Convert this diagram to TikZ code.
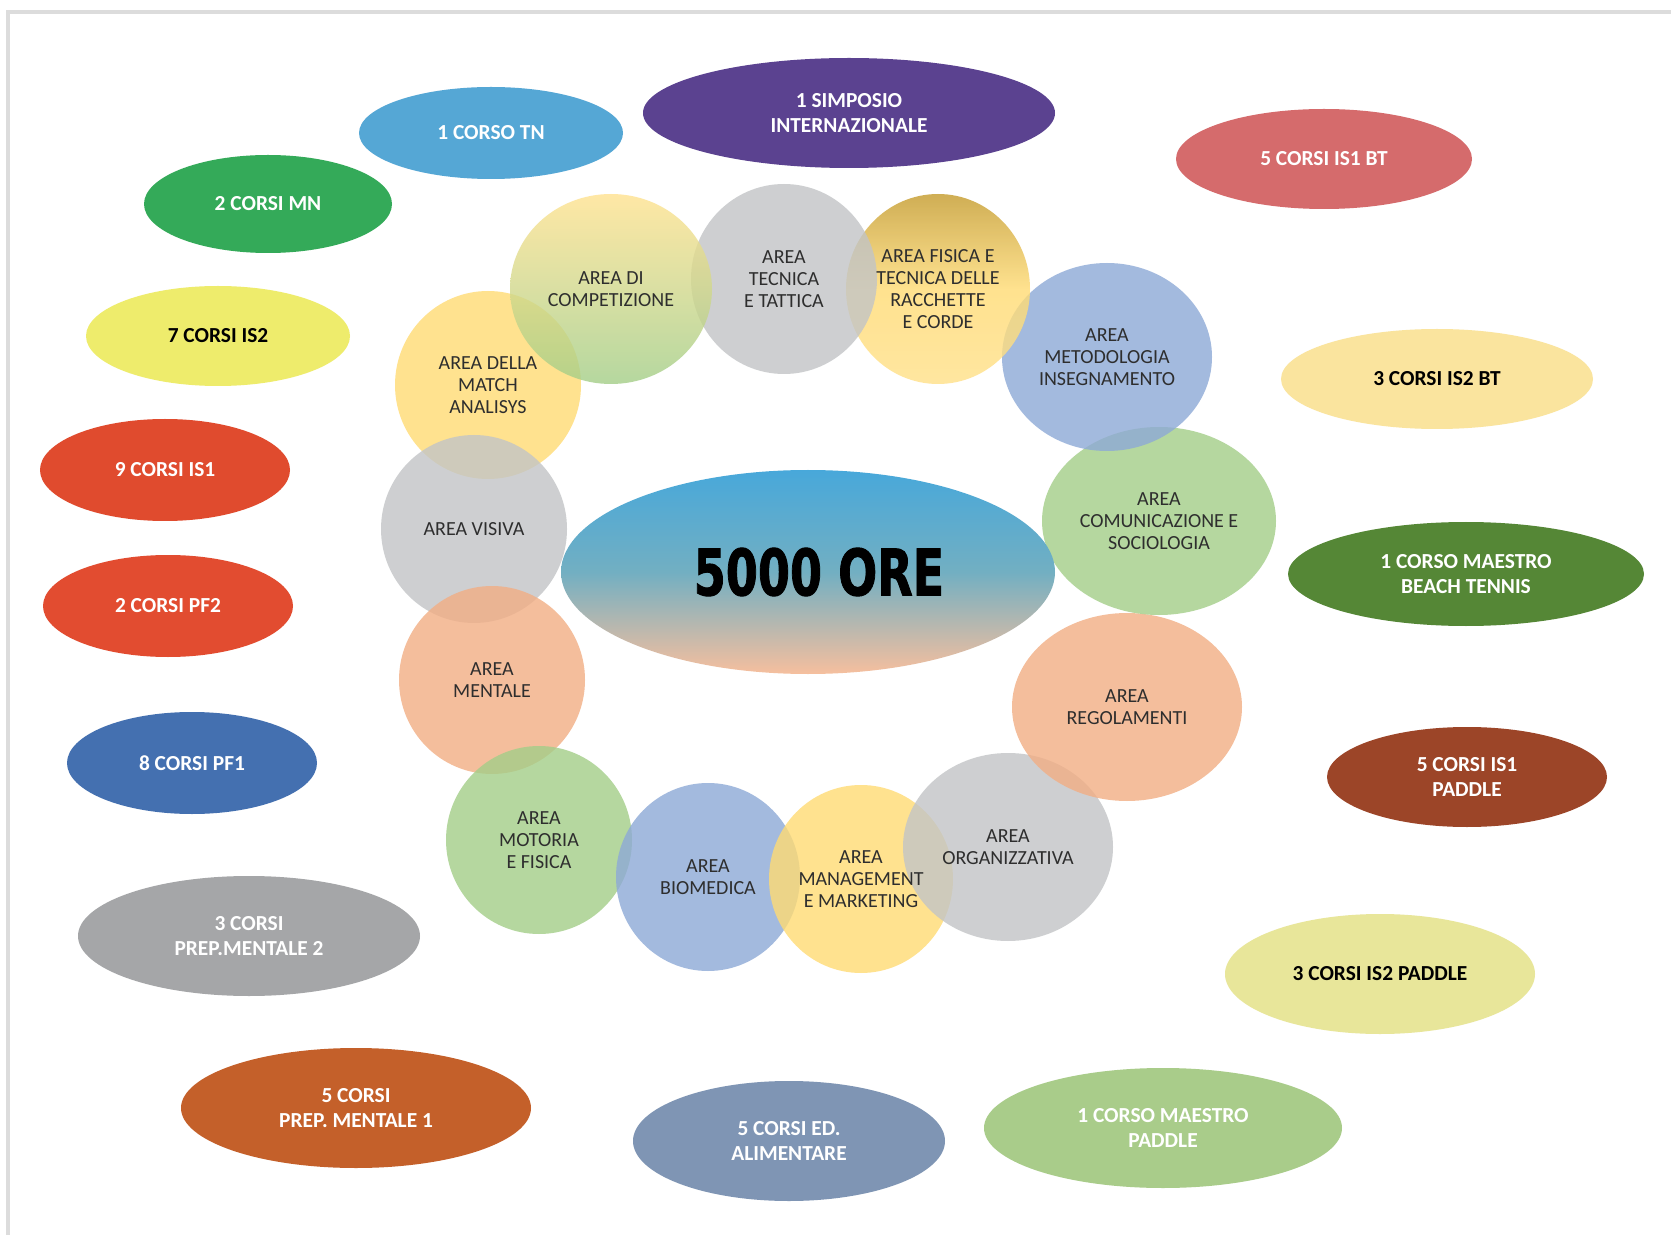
\documentclass[tikz,border=0pt]{standalone}
\usepackage{fontspec}
\usepackage{graphicx}
\setmainfont{Carlito}
\newfontfamily\orefont{DejaVu Sans}[FakeBold=1.6]
\usetikzlibrary{shapes.geometric}

\definecolor{bordo}{HTML}{DCDCDC}
\definecolor{areatxt}{HTML}{2E2E2E}
% colori dei corsi
\definecolor{cTN}{HTML}{55A7D5}
\definecolor{cMN}{HTML}{34AA59}
\definecolor{cSimp}{HTML}{5B4290}
\definecolor{cBTuno}{HTML}{D56B6C}
\definecolor{cIStwo}{HTML}{EEEC6C}
\definecolor{cBTdue}{HTML}{FAE49E}
\definecolor{cISuno}{HTML}{E04B2E}
\definecolor{cBeach}{HTML}{558736}
\definecolor{cPFdue}{HTML}{E24C30}
\definecolor{cPFuno}{HTML}{4470B0}
\definecolor{cPaduno}{HTML}{9C4528}
\definecolor{cPrepdue}{HTML}{A5A6A8}
\definecolor{cPaddue}{HTML}{E8E69A}
\definecolor{cPrepuno}{HTML}{C4602A}
\definecolor{cAlim}{HTML}{7F95B4}
\definecolor{cMaepad}{HTML}{A9CC8A}
% colori delle aree
\definecolor{aGiallo}{HTML}{FFDB73}
\definecolor{aOro}{HTML}{C49A2A}
\definecolor{aGrigio}{HTML}{C2C4C6}
\definecolor{aBlu}{HTML}{8DA9D6}
\definecolor{aVerde}{HTML}{A3CE88}
\definecolor{aPesca}{HTML}{F2AE84}
% centro
\definecolor{oreSu}{HTML}{48A8DA}
\definecolor{oreMezzo}{HTML}{72AFC2}
\definecolor{oreGiu}{HTML}{F6BF9E}

\begin{document}
\begin{tikzpicture}[x=0.5pt,y=-0.5pt,
    wh/.style 2 args={minimum width=#1pt, minimum height=#2pt},
    corso/.style={ellipse, inner sep=0pt, align=center, text=white,
        font=\fontsize{10.7}{12.8}\selectfont\bfseries},
    area/.style={ellipse, inner sep=0pt, fill opacity=0.8},
    etichetta/.style={align=center, inner sep=0pt, text=areatxt,
        font=\fontsize{10}{10.9}\selectfont}]
    \useasboundingbox[fill=white] (0,0) rectangle (1671,1235);
    \draw[bordo, line width=2pt] (8,1235) -- (8,12) -- (1671,12);

    % corsi
    \node[corso, wh={132}{46}, fill=cTN] (tn) at (491,133) {1 CORSO TN};
    \node[corso, wh={124}{49}, fill=cMN] (mn) at (268,204) {2 CORSI MN};
    \node[corso, wh={206}{55}, fill=cSimp] (simp) at (849,113) {1 SIMPOSIO\\INTERNAZIONALE};
    \node[corso, wh={148}{50}, fill=cBTuno] (isbt) at (1324,159) {5 CORSI IS1 BT};
    \node[corso, wh={132}{50}, fill=cIStwo, text=black] (istwo) at (218,336) {7 CORSI IS2};
    \node[corso, wh={156}{50}, fill=cBTdue, text=black] (istwobt) at (1437,379) {3 CORSI IS2 BT};
    \node[corso, wh={125}{51}, fill=cISuno] (isone) at (165,470) {9 CORSI IS1};
    \node[corso, wh={178}{52}, fill=cBeach] (beach) at (1466,574) {1 CORSO MAESTRO\\BEACH TENNIS};
    \node[corso, wh={125}{51}, fill=cPFdue] (pftwo) at (168,606) {2 CORSI PF2};
    \node[corso, wh={125}{51}, fill=cPFuno] (pfone) at (192,763) {8 CORSI PF1};
    \node[corso, wh={140}{50}, fill=cPaduno] (isonepad) at (1467,777) {5 CORSI IS1\\PADDLE};
    \node[corso, wh={171}{60}, fill=cPrepdue] (prepdue) at (249,936) {3 CORSI\\PREP.MENTALE 2};
    \node[corso, wh={155}{60}, fill=cPaddue, text=black] (istwopad) at (1380,974) {3 CORSI IS2 PADDLE};
    \node[corso, wh={175}{60}, fill=cPrepuno] (prepuno) at (356,1108) {5 CORSI\\PREP. MENTALE 1};
    \node[corso, wh={156}{60}, fill=cAlim] (alim) at (789,1141) {5 CORSI ED.\\ALIMENTARE};
    \node[corso, wh={179}{60}, fill=cMaepad] (maepad) at (1163,1128) {1 CORSO MAESTRO\\PADDLE};

    % aree (cerchi)
    \node[area, wh={93}{94}, fill=aGiallo] (match) at (488,385) {};
    \node[area, wh={93}{94}, fill=aGrigio] (visiva) at (474,529) {};
    \node[area, wh={93}{94}, fill=aPesca] (mentale) at (492,680) {};
    \node[area, wh={93}{94}, fill=aVerde] (motoria) at (539,840) {};
    \node[area, wh={92}{94}, fill=aBlu] (biomed) at (708,877) {};
    \node[area, wh={92}{94}, fill=aGiallo] (manag) at (861,879) {};
    \node[area, wh={105}{94}, fill=aGrigio] (organ) at (1008,847) {};
    \node[area, wh={115}{94}, fill=aPesca] (regol) at (1127,707) {};
    \node[area, wh={117}{94}, fill=aVerde] (comun) at (1159,521) {};
    \node[area, wh={105}{94}, fill=aBlu] (metod) at (1107,357) {};
    \node[area, wh={92}{95}, top color=aOro, bottom color=aGiallo!85,
        middle color=aGiallo] (fisica) at (938,289) {};
    \node[area, wh={93}{95}, fill=aGrigio] (tecnica) at (784,279) {};
    \node[area, wh={101}{95}, top color=aGiallo!80, bottom color=aVerde] (compet) at (611,289) {};

    % aree (testi)
    \node[etichetta] (matchT) at (match) {AREA DELLA\\MATCH\\ANALISYS};
    \node[etichetta] (visivaT) at (visiva) {AREA VISIVA};
    \node[etichetta] (mentaleT) at (mentale) {AREA\\MENTALE};
    \node[etichetta] (motoriaT) at (motoria) {AREA\\MOTORIA\\E FISICA};
    \node[etichetta] (biomedT) at (biomed) {AREA\\BIOMEDICA};
    \node[etichetta] (managT) at (manag) {AREA\\MANAGEMENT\\E MARKETING};
    \node[etichetta] (organT) at (organ) {AREA\\ORGANIZZATIVA};
    \node[etichetta] (regolT) at (regol) {AREA\\REGOLAMENTI};
    \node[etichetta] (comunT) at (comun) {AREA\\COMUNICAZIONE E\\SOCIOLOGIA};
    \node[etichetta] (metodT) at (metod) {AREA\\METODOLOGIA\\INSEGNAMENTO};
    \node[etichetta] (fisicaT) at (fisica) {AREA FISICA E\\TECNICA DELLE\\RACCHETTE\\E CORDE};
    \node[etichetta] (tecnicaT) at (tecnica) {AREA\\TECNICA\\E TATTICA};
    \node[etichetta] (competT) at (compet) {AREA DI\\COMPETIZIONE};

    % centro
    \node[ellipse, inner sep=0pt, wh={247}{102}, top color=oreSu, bottom color=oreGiu,
        middle color=oreMezzo] (ore) at (808,572) {};
    \node[inner sep=0pt] (oreT) at (819,572)
        {\orefont\bfseries\fontsize{32}{32}\selectfont\scalebox{0.72}[1]{5000 ORE}};
\end{tikzpicture}
\end{document}
